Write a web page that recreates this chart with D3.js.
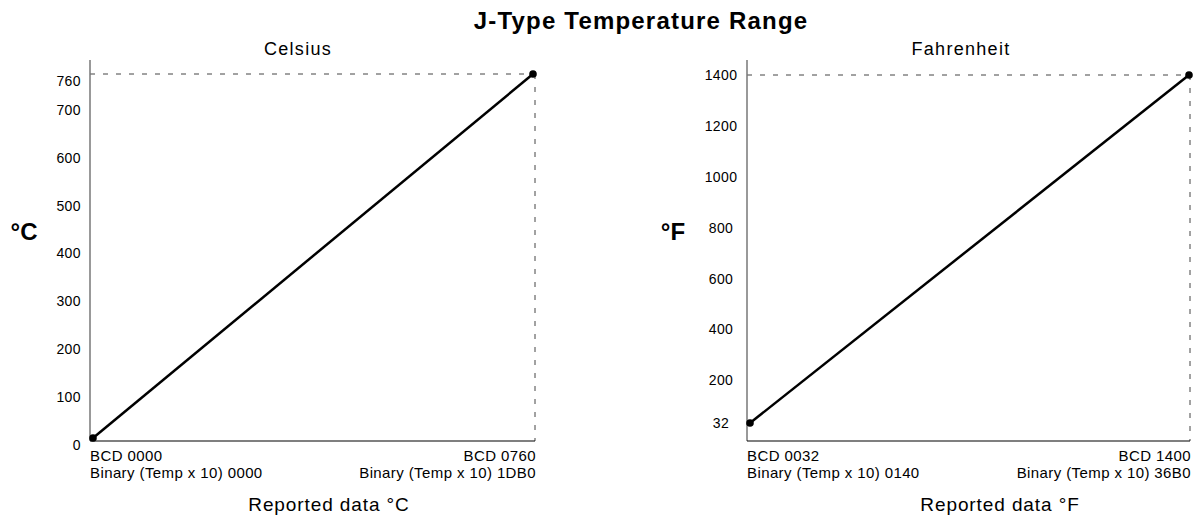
<!DOCTYPE html>
<html><head><meta charset="utf-8">
<script src="https://cdn.jsdelivr.net/npm/d3@7"></script>
<style>
body{margin:0;background:#fff;}
svg text{font-family:"Liberation Sans",Arial,Helvetica,sans-serif;fill:#000;}
</style></head>
<body><svg id="c" width="1195" height="517"></svg>
<script>
// ---- data ----
const chartTitle = "J-Type Temperature Range";
const panelTitles = ["Celsius", "Fahrenheit"];
const unitLabels = ["°C", "°F"];
const xTitles = ["Reported data °C", "Reported data °F"];
const celsiusRange = [0, 760];
const fahrenheitRange = [32, 1400];
const celsiusTicks = [0, 100, 200, 300, 400, 500, 600, 700, 760];
const fahrenheitTicks = [32, 200, 400, 600, 800, 1000, 1200, 1400];
const celsiusLowLabels = ["BCD 0000", "Binary (Temp x 10) 0000"];
const celsiusHighLabels = ["BCD 0760", "Binary (Temp x 10) 1DB0"];
const fahrenheitLowLabels = ["BCD 0032", "Binary (Temp x 10) 0140"];
const fahrenheitHighLabels = ["BCD 1400", "Binary (Temp x 10) 36B0"];

const svg = d3.select("#c");

svg.append("text").attr("x", 641).attr("y", 20).attr("text-anchor", "middle")
  .attr("dominant-baseline", "central").style("font-size", "24px").style("font-weight", "bold")
  .style("letter-spacing", "1.2px").text(chartTitle);

const panels = [
  {range: celsiusRange, ticks: celsiusTicks, low: celsiusLowLabels, high: celsiusHighLabels,
   axisX: 90, px: [93, 533], py: [438, 74], frameR: 535, tickX: 81, tickAnchor: "end", tickDy: 7,
   titleX: 298, unitX: 24, xTitleX: 329, title: panelTitles[0], unit: unitLabels[0], xTitle: xTitles[0]},
  {range: fahrenheitRange, ticks: fahrenheitTicks, low: fahrenheitLowLabels, high: fahrenheitHighLabels,
   axisX: 747, px: [750, 1189], py: [423, 75], frameR: 1190, tickX: 721, tickAnchor: "middle", tickDy: 0,
   titleX: 961, unitX: 673, xTitleX: 1000, title: panelTitles[1], unit: unitLabels[1], xTitle: xTitles[1]}
];

const plotTop = 60, plotBottom = 441;

panels.forEach(p => {
  const x = d3.scaleLinear().domain(p.range).range(p.px);
  const y = d3.scaleLinear().domain(p.range).range(p.py);
  const g = svg.append("g");
  const hi = p.range[1];

  // dashed reference lines
  g.append("line").attr("x1", p.axisX).attr("x2", p.frameR).attr("y1", y(hi)).attr("y2", y(hi))
    .attr("stroke", "#444").attr("stroke-width", 1).attr("stroke-dasharray", "5,8");
  g.append("line").attr("x1", p.frameR).attr("x2", p.frameR).attr("y1", y(hi)).attr("y2", plotBottom)
    .attr("stroke", "#444").attr("stroke-width", 1).attr("stroke-dasharray", "5,8");

  // axes lines
  g.append("line").attr("x1", p.axisX).attr("x2", p.axisX).attr("y1", plotTop).attr("y2", plotBottom)
    .attr("stroke", "#777").attr("stroke-width", 1.5);
  g.append("line").attr("x1", p.axisX).attr("x2", p.frameR).attr("y1", plotBottom).attr("y2", plotBottom)
    .attr("stroke", "#000").attr("stroke-width", 1.2);

  // tick labels
  g.selectAll("text.tick").data(p.ticks).enter().append("text").attr("class", "tick")
    .attr("x", p.tickX).attr("y", d => y(d) + p.tickDy).attr("text-anchor", p.tickAnchor)
    .attr("dominant-baseline", "central").style("font-size", "14px").style("letter-spacing", "0.4px")
    .text(d => d);

  // data line
  const pts = [p.range[0], p.range[1]].map(v => ({v}));
  g.append("path").datum(pts)
    .attr("d", d3.line().x(d => x(d.v)).y(d => y(d.v)))
    .attr("fill", "none").attr("stroke", "#000").attr("stroke-width", 2.5);
  g.selectAll("circle").data(pts).enter().append("circle")
    .attr("cx", d => x(d.v)).attr("cy", d => y(d.v)).attr("r", 3.8).attr("fill", "#000");

  // titles
  g.append("text").attr("x", p.titleX).attr("y", 49).attr("text-anchor", "middle")
    .attr("dominant-baseline", "central").style("font-size", "18px").style("letter-spacing", "1.3px").text(p.title);
  g.append("text").attr("x", p.unitX).attr("y", 231).attr("text-anchor", "middle")
    .attr("dominant-baseline", "central").style("font-size", "24px").style("font-weight", "bold").text(p.unit);
  g.append("text").attr("x", p.xTitleX).attr("y", 504).attr("text-anchor", "middle")
    .attr("dominant-baseline", "central").style("font-size", "19px").style("letter-spacing", "0.9px").text(p.xTitle);

  // end labels
  p.low.forEach((t, i) => g.append("text").attr("x", p.axisX).attr("y", 455 + i * 17)
    .attr("dominant-baseline", "central").style("font-size", "15px").style("letter-spacing", "0.4px").text(t));
  p.high.forEach((t, i) => g.append("text").attr("x", p.frameR + 1).attr("y", 455 + i * 17)
    .attr("text-anchor", "end").attr("dominant-baseline", "central").style("font-size", "15px")
    .style("letter-spacing", "0.4px").text(t));
});
</script></body></html>
